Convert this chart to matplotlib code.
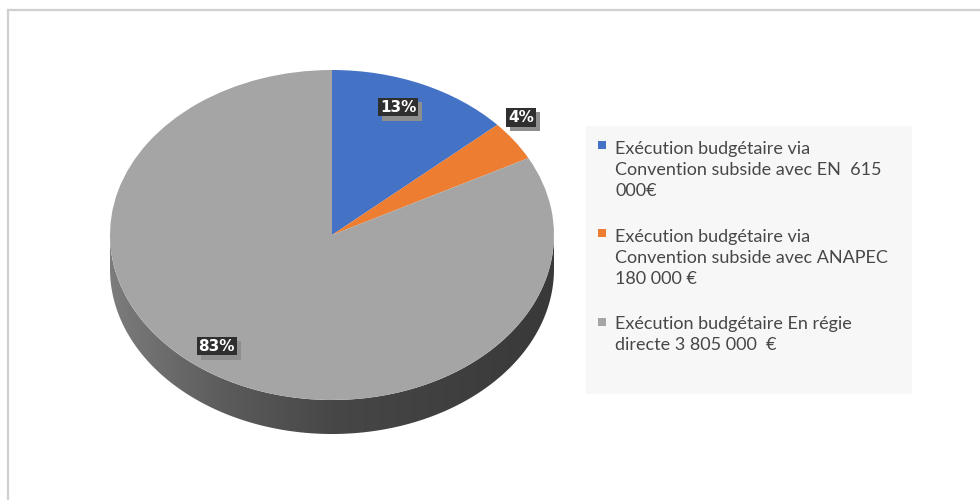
import numpy as np
import matplotlib
matplotlib.use("Agg")
import matplotlib.pyplot as plt
import matplotlib.patheffects as pe
from matplotlib.patches import Polygon, Rectangle
from matplotlib.colors import LinearSegmentedColormap

# data
labels = [
    "Exécution budgétaire via\nConvention subside avec EN  615\n000€",
    "Exécution budgétaire via\nConvention subside avec ANAPEC\n180 000 €",
    "Exécution budgétaire En régie\ndirecte 3 805 000  €",
]
values = [615000, 180000, 3805000]
colors = ["#4472c4", "#ed7d31", "#a5a5a5"]
# where each percentage label sits (radius, angle in degrees) on the top face
pct_pos = [(0.83, 69), (1.11, 40), (0.85, -127.6)]

W, H = 980, 500
fig = plt.figure(figsize=(9.8, 5), dpi=100)
fig.patch.set_facecolor("white")

# background axes in pixel coordinates
bg = fig.add_axes([0, 0, 1, 1])
bg.set_xlim(0, W)
bg.set_ylim(H, 0)
bg.axis("off")
bg.plot([8, 8, W], [H, 10, 10], color="#cfcfcf", lw=1.6, solid_joinstyle="miter")

# pie geometry (pixels)
cx, cy, rx, ry, depth = 332, 235, 222, 165, 34
d = depth / ry

ax = fig.add_axes([(cx - rx) / W, (H - (cy + ry + depth)) / H,
                   2 * rx / W, (2 * ry + depth) / H])
wedges, _ = ax.pie(values, colors=colors, startangle=90, counterclock=False,
                   radius=1, wedgeprops=dict(linewidth=0))
for w in wedges:
    w.set_zorder(3)
ax.set_aspect("auto")
ax.set_xlim(-1, 1)
ax.set_ylim(-1 - d, 1)
ax.axis("off")

# side of the 3d pie (only the big gray slice shows)
t = np.linspace(np.pi, 2 * np.pi, 300)
xs = np.cos(t)
side = np.concatenate([np.column_stack([xs, np.sin(t)]),
                       np.column_stack([xs[::-1], np.sin(t[::-1]) - d])])
side_patch = Polygon(side, closed=True, fc="none", ec="none")
ax.add_patch(side_patch)
cmap = LinearSegmentedColormap.from_list(
    "side", [(0, "#7c7c7c"), (0.25, "#5c5c5c"), (0.5, "#474747"), (1, "#393939")])
grad = ax.imshow(np.linspace(0, 1, 256)[None, :], cmap=cmap, aspect="auto",
                 extent=[-1, 1, -1 - d, 0], zorder=1)
grad.set_clip_path(side_patch)

# percentage labels with dark box and gray shadow
total = sum(values)
for v, (r, a) in zip(values, pct_pos):
    x, y = r * np.cos(np.radians(a)), r * np.sin(np.radians(a))
    txt = f"{round(v / total * 100):.0f}%"
    t_ = ax.text(x, y, txt, ha="center", va="center", fontsize=11,
                 fontweight="bold", color="white", zorder=5,
                 bbox=dict(boxstyle="square,pad=0.12", fc="#2f2f2f", ec="none"))
    t_.get_bbox_patch().set_path_effects([
        pe.SimplePatchShadow(offset=(3, -3), shadow_rgbFace="#8e8e8e", alpha=1),
        pe.Normal()])

# legend drawn by hand
bg.add_patch(Rectangle((586, 126), 326, 268, fc="#f7f7f7", ec="none"))
first_line = [145, 233, 322]
line_h = 25
for lab, col, y0 in zip(labels, colors, first_line):
    n = lab.count("\n") + 1
    bg.add_patch(Rectangle((598, y0 - 4), 8, 8, fc=col, ec="none"))
    bg.text(615, y0 + (n - 1) * line_h / 2, lab, ha="left", va="center",
            fontsize=13, family="Lato", color="#474747", linespacing=1.38)

fig.savefig("out.png", dpi=100)
